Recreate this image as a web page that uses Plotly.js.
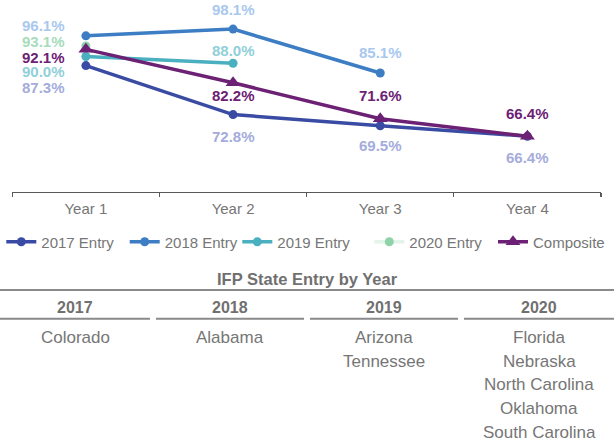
<!DOCTYPE html>
<html>
<head>
<meta charset="utf-8">
<script src="https://cdn.plot.ly/plotly-3.0.1.min.js"></script>
<style>
html,body{margin:0;padding:0;background:#fff;}
#chart{width:614px;height:444px;}
</style>
</head>
<body>
<div id="chart"></div>
<script>
// ---- data ----
var years = ['Year 1', 'Year 2', 'Year 3', 'Year 4'];
var seriesNames = ['2017 Entry', '2018 Entry', '2019 Entry', '2020 Entry', 'Composite'];
var entry2017 = [87.3, 72.8, 69.5, 66.4];
var entry2018 = [96.1, 98.1, 85.1, null];
var entry2019 = [90.0, 88.0, null, null];
var entry2020 = [93.1, null, null, null];
var composite = [92.1, 82.2, 71.6, 66.4];

var tableTitle = 'IFP State Entry by Year';
var entryYears = ['2017', '2018', '2019', '2020'];
var statesByYear = [
  ['Colorado'],
  ['Alabama'],
  ['Arizona', 'Tennessee'],
  ['Florida', 'Nebraska', 'North Carolina', 'Oklahoma', 'South Carolina']
];

// ---- styles ----
var W = 614, H = 444;
var FONT = 'Liberation Sans, Arial, sans-serif';
var GRAY = '#767676';
var lineColors = ['#3a4ba3', '#3c7dc4', '#4aafbf', '#e3f4ea', '#6c2175'];
var markerColors = ['#3a4ba3', '#3c7dc4', '#4aafbf', '#8fd3a9', '#6c2175'];
var labelColors = ['#a4acdc', '#a8c8ee', '#90d0d8', '#a6dcbc', '#6c2175'];
var symbols = ['circle', 'circle', 'circle', 'circle', 'triangle-up'];
var sizes = [9, 9, 9, 9, 13];
var legendX = [1.3, 124.7, 237.3, 369.3, 493];
// label offsets (px, up positive) per series per point; Year 1 labels sit to the left
var labelShift = [
  [-21.7, -21.4, -20.2, -21],
  [10, 20, 20.3, 0],
  [-15.2, 12.5, 0, 0],
  [4.3, 0, 0, 0],
  [-8.3, -12.5, 22.7, 23]
];

function px(x) { return x / W; }
function py(y) { return 1 - y / H; }

var allSeries = [entry2017, entry2018, entry2019, entry2020, composite];
var traces = allSeries.map(function (vals, i) {
  return {
    type: 'scatter', mode: 'lines+markers',
    name: seriesNames[i], x: years, y: vals,
    legend: i === 0 ? 'legend' : 'legend' + (i + 1),
    line: { color: lineColors[i], width: 3.5 },
    marker: { color: markerColors[i], size: sizes[i], symbol: symbols[i] },
    connectgaps: false, cliponaxis: false, hoverinfo: 'skip'
  };
});

var annotations = [];
allSeries.forEach(function (vals, i) {
  vals.forEach(function (v, j) {
    if (v === null) return;
    var first = j === 0;
    annotations.push({
      x: years[j], y: v, xref: 'x', yref: 'y',
      text: v.toFixed(1) + '%', showarrow: false,
      xanchor: first ? 'right' : 'center', yanchor: 'middle',
      xshift: first ? -19.3 : 0, yshift: labelShift[i][j],
      font: { family: FONT, size: 15, color: labelColors[i], weight: 'bold' }
    });
  });
});

// table
var shapes = [];
annotations.push({
  xref: 'paper', yref: 'paper', x: px(307), y: py(279.3),
  text: '<b>' + tableTitle + '</b>', showarrow: false,
  xanchor: 'center', yanchor: 'middle',
  font: { family: FONT, size: 16.5, color: '#707070' }
});
shapes.push({ type: 'line', xref: 'paper', yref: 'paper', x0: 0, x1: 1, y0: py(290), y1: py(290),
  line: { color: '#8a8a8a', width: 2 } });
var colLeft = [0, 156, 310, 464], colRight = [150, 304, 458, 614];
entryYears.forEach(function (yr, k) {
  var cx = (colLeft[k] + colRight[k]) / 2;
  annotations.push({
    xref: 'paper', yref: 'paper', x: px(cx), y: py(307.7),
    text: '<b>' + yr + '</b>', showarrow: false, xanchor: 'center', yanchor: 'middle',
    font: { family: FONT, size: 16, color: '#707070' }
  });
  shapes.push({ type: 'line', xref: 'paper', yref: 'paper', x0: px(colLeft[k]), x1: px(colRight[k]),
    y0: py(318.7), y1: py(318.7), line: { color: '#8a8a8a', width: 2 } });
  statesByYear[k].forEach(function (st, r) {
    annotations.push({
      xref: 'paper', yref: 'paper', x: px(cx), y: py(337.3 + r * 23.7),
      text: st, showarrow: false, xanchor: 'center', yanchor: 'middle',
      font: { family: FONT, size: 17, color: GRAY }
    });
  });
});

var layout = {
  width: W, height: H,
  margin: { l: 0, r: 0, t: 0, b: 0 },
  paper_bgcolor: '#fff', plot_bgcolor: 'rgba(0,0,0,0)',
  showlegend: true,
  xaxis: {
    type: 'category', domain: [px(12.3), px(601)], range: [-0.5, 3.5],
    showline: true, linecolor: '#595959', linewidth: 1.3,
    ticks: 'outside', ticklen: 4, tickcolor: '#595959', tickwidth: 1.3,
    tickson: 'boundaries', showgrid: false, zeroline: false,
    ticklabelstandoff: 3,
    tickfont: { family: FONT, size: 15, color: GRAY },
    fixedrange: true
  },
  yaxis: {
    domain: [py(191.7), 1], range: [50, 106.7], visible: false, fixedrange: true
  },
  annotations: annotations,
  shapes: shapes
};
legendX.forEach(function (lx, i) {
  layout[i === 0 ? 'legend' : 'legend' + (i + 1)] = {
    orientation: 'h', x: px(lx), xanchor: 'left', y: py(242), yanchor: 'middle',
    font: { family: FONT, size: 15, color: GRAY },
    bgcolor: 'rgba(0,0,0,0)'
  };
});

Plotly.newPlot('chart', traces, layout, { displayModeBar: false, staticPlot: true });
</script>
</body>
</html>
